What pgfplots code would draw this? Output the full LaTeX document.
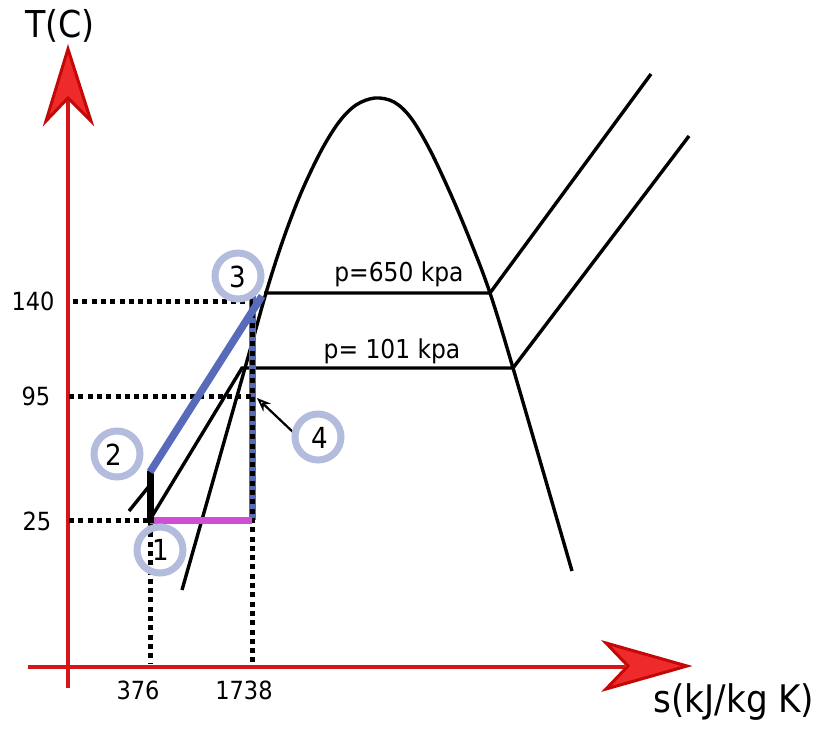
\documentclass[border=0pt]{standalone}
\usepackage{pgfplots}
\pgfplotsset{compat=1.18}
\usetikzlibrary{arrows.meta}
\usepackage{fontspec}
\setmainfont{DejaVu Sans Condensed}

\definecolor{axred}{RGB}{214,22,22}
\definecolor{axredfill}{RGB}{238,42,42}
\definecolor{axreddark}{RGB}{196,8,8}
\definecolor{cycblue}{RGB}{88,106,186}
\definecolor{ringblue}{RGB}{180,188,222}
\definecolor{cycmag}{RGB}{206,78,212}

\begin{document}
\begin{tikzpicture}
\begin{axis}[
  x=1pt, y=1pt, y dir=reverse,
  xmin=0, xmax=820, ymin=0, ymax=732,
  axis lines=none, clip=false, scale only axis,
]
% frame of the drawing area
\addplot[draw=none] coordinates {(0,0) (820,732)};

% state markers (rings)
\addplot[only marks, mark=o, mark size=23pt,
  mark options={draw=ringblue, line width=7pt}]
  coordinates {(238,276) (117,454) (160,550) (318,437)};

% red coordinate axes
\addplot[axred, line width=4.8pt] coordinates {(68,688) (68,100)};
\addplot[axred, line width=4.8pt] coordinates {(28,667) (625,667)};
\addplot[fill=axredfill, draw=axreddark, line width=3pt, line join=miter]
  coordinates {(68,49) (91,121) (68,98) (46,121)} -- cycle;
\addplot[fill=axredfill, draw=axreddark, line width=3pt, line join=miter]
  coordinates {(687,666) (606,643) (628,666) (606,689)} -- cycle;

% two-phase dome
\addplot[black, line width=3.4pt, smooth, tension=0.55] coordinates {
  (182,590) (245,368) (266,293) (283,240) (301,193) (321,151)
  (339,122) (356,105) (375,98) (394,102) (411,118) (430,150)
  (452,197) (472,245) (490,293) (513,368) (572,571)};

% isobars
\addplot[black, line width=3.4pt] coordinates {(129,511) (150,485)};
\addplot[black, line width=3.4pt] coordinates {(264,293) (490,293) (651,74)};
\addplot[black, line width=3.4pt] coordinates {(151,518) (242,368) (513,368) (689,136)};

% cycle: 3 -> 4 expansion (under the guide line)
\addplot[cycblue, line width=7pt] coordinates {(252,296) (252,520)};

% dotted guide lines
\pgfplotsset{guide/.style={black, line width=5pt, dash pattern=on 5pt off 4.3pt}}
\addplot[guide] coordinates {(73,301) (253,301)};
\addplot[guide] coordinates {(69,396) (252,396)};
\addplot[guide] coordinates {(69,520) (150,520)};
\addplot[guide] coordinates {(150,523) (150,664)};
\addplot[guide] coordinates {(252,304) (252,664)};

% cycle: 4 -> 1, 1 -> 2, 2 -> 3
\addplot[cycmag, line width=7pt] coordinates {(150,520) (252,520)};
\addplot[black, line width=7pt] coordinates {(150,523) (150,471)};
\addplot[cycblue, line width=7.5pt] coordinates {(150,472) (262,296)};
\addplot[cycblue, line width=3.5pt] coordinates {(142,538) (150,526)};

% pointer to state 4
\addplot[black, line width=2.2pt,
  -{Stealth[open, length=14pt, width=11pt, line width=1.8pt]}]
  coordinates {(294,433) (257,398)};

% texts
\node[font=\fontsize{37}{40}\selectfont] at (axis cs:60,26) {T(C)};
\node[font=\fontsize{38}{42}\selectfont] at (axis cs:734,702) {s(kJ/kg K)};
\node[font=\fontsize{25}{28}\selectfont] at (axis cs:33,301) {140};
\node[font=\fontsize{25}{28}\selectfont] at (axis cs:36,396) {95};
\node[font=\fontsize{25}{28}\selectfont] at (axis cs:37,521) {25};
\node[font=\fontsize{25}{28}\selectfont] at (axis cs:138,690) {376};
\node[font=\fontsize{25}{28}\selectfont] at (axis cs:244,690) {1738};
\node[font=\fontsize{26}{28}\selectfont] at (axis cs:399,274) {p=650 kpa};
\node[font=\fontsize{26}{28}\selectfont] at (axis cs:392,351) {p= 101 kpa};
\node[font=\fontsize{29}{30}\selectfont] at (axis cs:238,277) {3};
\node[font=\fontsize{29}{30}\selectfont] at (axis cs:114,455) {2};
\node[font=\fontsize{29}{30}\selectfont] at (axis cs:161,550) {1};
\node[font=\fontsize{29}{30}\selectfont] at (axis cs:320,438) {4};

\coordinate (bl) at (axis cs:0,732);
\coordinate (tr) at (axis cs:820,0);
\end{axis}
\pgfresetboundingbox
\path (bl) rectangle (tr);
\end{tikzpicture}
\end{document}
